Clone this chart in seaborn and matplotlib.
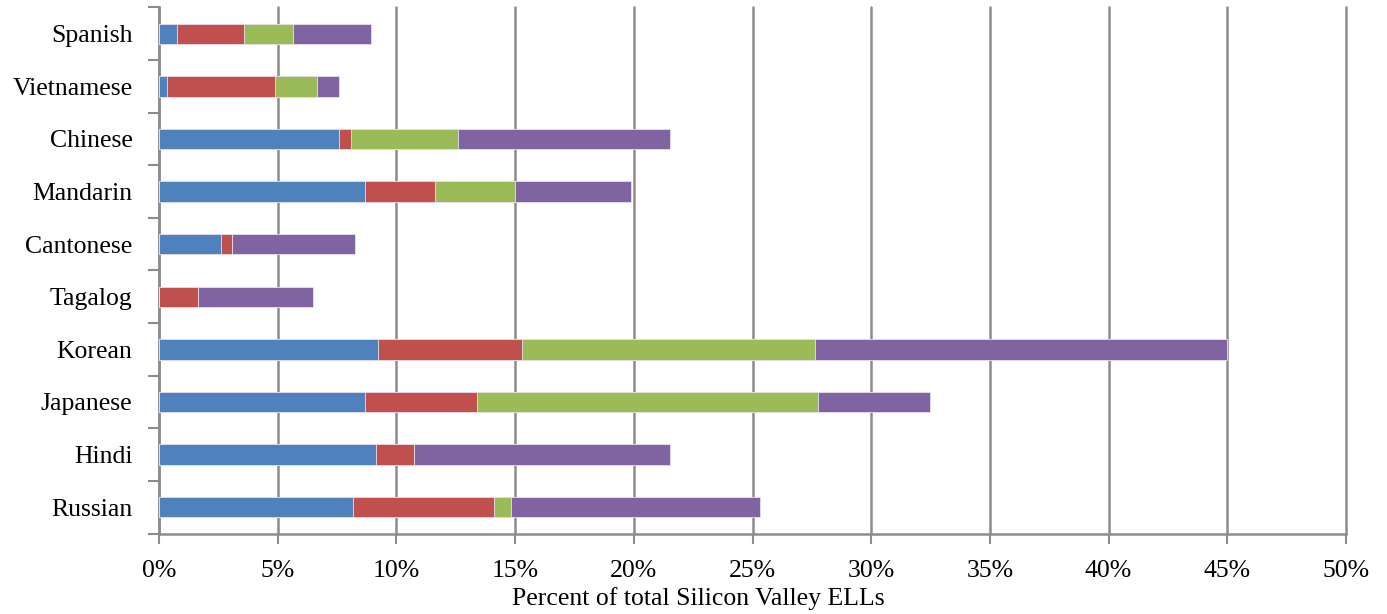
import numpy as np
import pandas as pd
import matplotlib
matplotlib.use("Agg")
import matplotlib.pyplot as plt
import seaborn as sns
from matplotlib.ticker import FixedLocator, PercentFormatter

# Languages, top to bottom
languages = ["Spanish", "Vietnamese", "Chinese", "Mandarin", "Cantonese",
             "Tagalog", "Korean", "Japanese", "Hindi", "Russian"]

# Segment widths (percent of total Silicon Valley ELLs)
seg_blue = [0.77, 0.35, 7.60, 8.69, 2.60, 0.00, 9.24, 8.69, 9.14, 8.19]
seg_red = [2.81, 4.54, 0.50, 2.94, 0.47, 1.63, 6.04, 4.71, 1.62, 5.92]
seg_green = [2.05, 1.75, 4.51, 3.37, 0.00, 0.00, 12.34, 14.37, 0.00, 0.72]
seg_purple = [3.30, 0.94, 8.91, 4.88, 5.17, 4.87, 17.38, 4.72, 10.76, 10.47]

colors = ["#4F81BD", "#C0504D", "#9BBB59", "#8064A2"]

sns.set_theme(style="white")
plt.rcParams["font.family"] = ["Liberation Serif", "DejaVu Serif"]

df = pd.DataFrame({"language": languages,
                   "s1": seg_blue, "s2": seg_red, "s3": seg_green, "s4": seg_purple})
df["c1"] = df["s1"]
df["c2"] = df["c1"] + df["s2"]
df["c3"] = df["c2"] + df["s3"]
df["c4"] = df["c3"] + df["s4"]

fig = plt.figure(figsize=(13.87, 6.14), dpi=100)
ax = fig.add_axes([159 / 1387, (614 - 533.5) / 614, (1346 - 159) / 1387, (533.5 - 7.5) / 614])

# Stacked bars: draw cumulative totals from the outermost segment inward
for col, color in zip(["c4", "c3", "c2", "c1"], colors[::-1]):
    sns.barplot(data=df, x=col, y="language", order=languages, color=color,
                orient="h", width=0.39, saturation=1, edgecolor="#e6e0ee",
                linewidth=0.6, ax=ax, zorder=3)

ax.set_xlim(0, 50)
ax.set_ylim(len(languages) - 0.5, -0.5)
ax.xaxis.set_major_locator(FixedLocator(np.arange(0, 51, 5)))
ax.xaxis.set_major_formatter(PercentFormatter(decimals=0))
ax.grid(axis="x", color="#8c8c8c", linewidth=1.8, zorder=0)
ax.grid(axis="y", visible=False)
for gl in ax.get_xgridlines():
    gl.set_clip_on(False)

for side in ["top", "right"]:
    ax.spines[side].set_visible(False)
for side in ["left", "bottom"]:
    ax.spines[side].set_color("#8c8c8c")
    ax.spines[side].set_linewidth(1.8)

ax.tick_params(axis="x", which="major", direction="out", length=7, width=1.5,
               color="#8c8c8c", labelsize=18.5, pad=12, bottom=True)
ax.tick_params(axis="y", which="major", length=0, labelsize=18.5, pad=19)
ax.yaxis.set_minor_locator(FixedLocator(np.arange(-0.5, len(languages) + 0.5, 1.0)))
ax.tick_params(axis="y", which="minor", direction="out", length=8, width=1.5,
               color="#8c8c8c", left=True)

for lbl in ax.get_xticklabels() + ax.get_yticklabels():
    lbl.set_color("black")

ax.set_ylabel("")
ax.set_xlabel("Percent of total Silicon Valley ELLs", fontsize=18.5, color="black",
              labelpad=4, x=0.454)

fig.savefig("out.png", dpi=100)
